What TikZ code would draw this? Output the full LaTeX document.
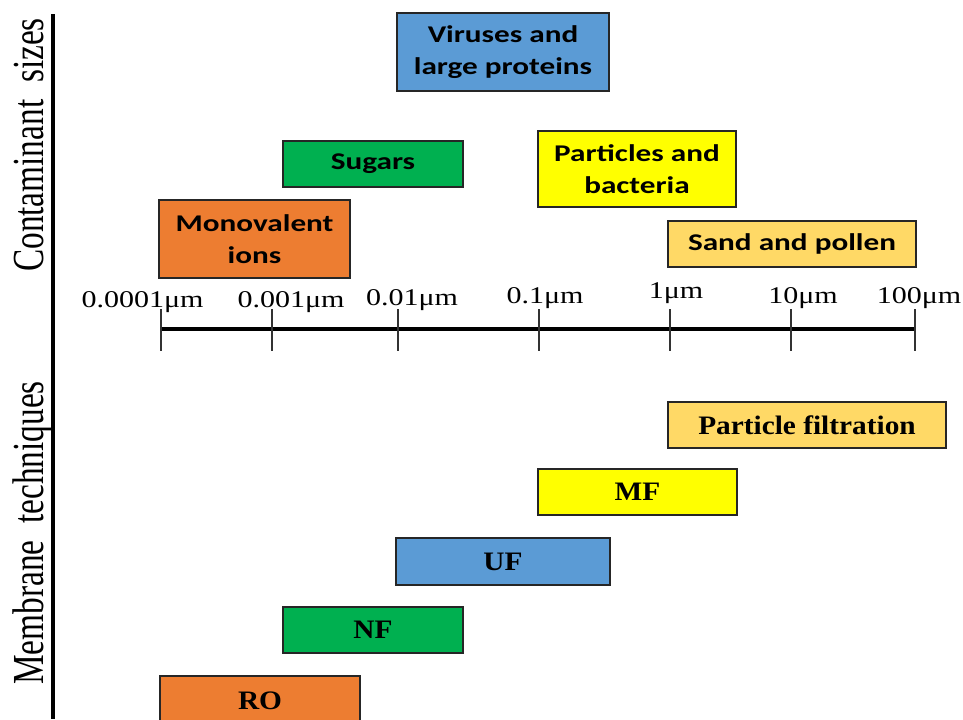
\documentclass[tikz,border=0pt]{standalone}
\usepackage{fontspec}
\setmainfont{Liberation Serif}
\newfontfamily\calfont[FakeStretch=1.3]{Carlito}
\newfontfamily\axisfont[FakeStretch=1.25]{Liberation Serif}
\newfontfamily\techfont[FakeStretch=1.1]{Liberation Serif}
\usepackage{graphicx}
\usepackage{xcolor}
\definecolor{BoxBlue}{HTML}{5B9BD5}
\definecolor{BoxGreen}{HTML}{00B050}
\definecolor{BoxYellow}{HTML}{FFFF00}
\definecolor{BoxOrange}{HTML}{ED7D31}
\definecolor{BoxSand}{HTML}{FFD966}
\usepackage{tikz}
\usetikzlibrary{positioning}

\tikzset{
  sizebox/.style={draw=black!85, line width=1.1pt, align=center, inner sep=0pt,
    font=\calfont\bfseries\fontsize{18}{24.5}\selectfont},
  techbox/.style={draw=black!85, line width=1.1pt, align=center, inner sep=0pt,
    font=\techfont\bfseries\fontsize{20}{24}\selectfont},
  axislabel/.style={anchor=base, inner sep=0pt, font=\axisfont\fontsize{18}{21}\selectfont},
  sidelabel/.style={rotate=90, anchor=base, inner sep=0pt, font=\fontsize{25}{30}\selectfont}
}

\begin{document}
\begin{tikzpicture}[x=0.75pt, y=-0.75pt]
        \useasboundingbox (0,0) rectangle (963,719);
        \clip (0,0) rectangle (963,719);

        % Titres lateraux et separateur
        \node[sidelabel] (csizes) at (43,145) {\scalebox{1}[1.33]{Contaminant\ \ sizes}};
        \node[sidelabel] (mtech) at (43,533) {\scalebox{1}[1.33]{Membrane\ \ techniques}};
        \coordinate (sep0) at (53,14);
        \coordinate (sep1) at (53,719);
        \draw[line width=3pt] (sep0) -- (sep1);

        % Echelle des tailles
        \coordinate (ax0) at (160,329);
        \coordinate (ax1) at (916,329);
        \draw[line width=3pt] (ax0) -- (ax1);
        \foreach \tx/\lx/\ly/\lab [count=\i] in {161/142.5/307/0.0001, 272/291/307/0.001, 398/412/305/0.01, 539/545/303/0.1, 670/676/298/1, 791/803/303/10, 915/919/303/100} {
            \draw[line width=1.1pt, black!80] (\tx,309) -- (\tx,351);
            \node[axislabel] (lab\i) at (\lx,\ly) {\lab μm};
        }

        % Contaminants (au-dessus de l'echelle)
        \node[sizebox, fill=BoxBlue, minimum width=159pt, minimum height=58.5pt] (vir) at (503,52) {Viruses and\\large proteins};
        \node[sizebox, fill=BoxGreen, minimum width=135pt, minimum height=34.5pt] (sug) at (373,164) {Sugars};
        \node[sizebox, fill=BoxYellow, minimum width=148.5pt, minimum height=57pt] (bac) at (637,169) {Particles and\\bacteria};
        \node[sizebox, fill=BoxOrange, minimum width=143.25pt, minimum height=58.5pt] (ion) at (254.5,239) {Monovalent\\ions};
        \node[sizebox, fill=BoxSand, minimum width=186pt, minimum height=34.5pt] (sand) at (792,244) {Sand and pollen};

        % Techniques membranaires (en dessous)
        \node[techbox, fill=BoxSand, minimum width=208.5pt, minimum height=34.5pt] (pf) at (807,425) {Particle filtration};
        \node[techbox, fill=BoxYellow, minimum width=149.25pt, minimum height=34.5pt] (mf) at (637.5,492) {MF};
        \node[techbox, fill=BoxBlue, minimum width=160.5pt, minimum height=35.25pt] (uf) at (503,561.5) {UF};
        \node[techbox, fill=BoxGreen, minimum width=135pt, minimum height=34.5pt] (nf) at (373,630) {NF};
        \node[techbox, fill=BoxOrange, minimum width=150pt, minimum height=37.5pt] (ro) at (260,701) {RO};
    \end{tikzpicture}
\end{document}
